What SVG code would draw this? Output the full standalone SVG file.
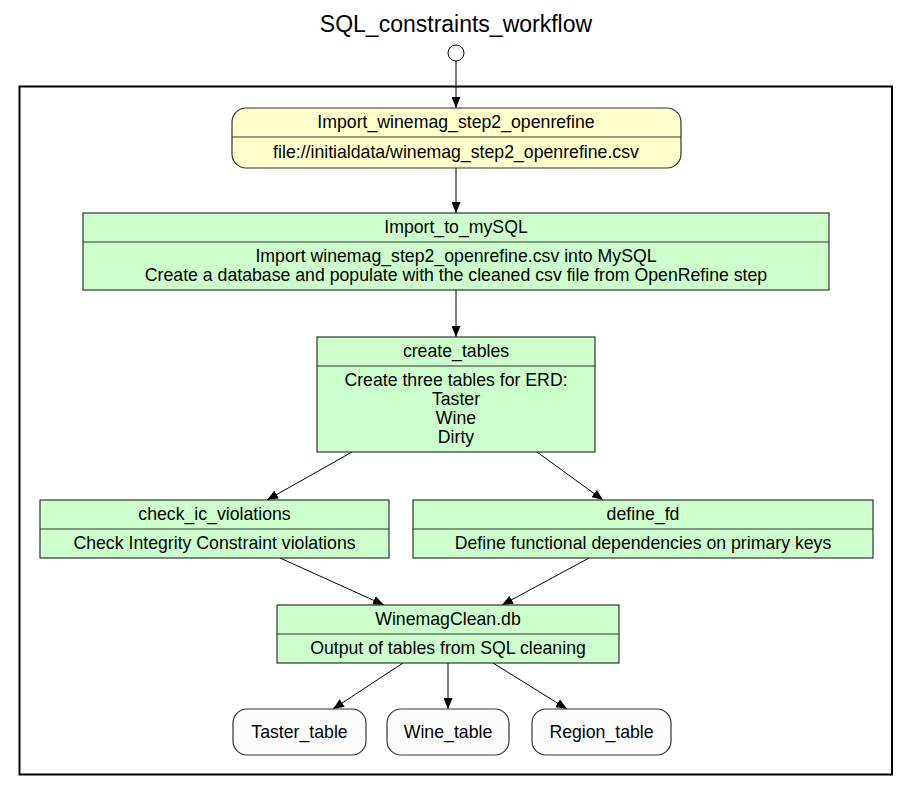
<svg xmlns="http://www.w3.org/2000/svg" width="908" height="796" viewBox="0 0 908 796">
<style>
text{font-family:"Liberation Sans",Arial,Helvetica,sans-serif;font-size:17.7px;fill:#000;text-anchor:middle}
.title{font-size:23px}
.box{stroke:#333;stroke-width:1.2}
.g{fill:#ccffcc}
.y{fill:#ffffcc}
.w{fill:#fcfcfc}
.div{stroke:#333;stroke-width:1.2}
.edge{stroke:#000;stroke-width:1;fill:none;marker-end:url(#ah)}
</style>
<defs>
<marker id="ah" markerWidth="12" markerHeight="9" refX="11" refY="4.5" orient="auto" markerUnits="userSpaceOnUse">
<path d="M0,0 L11,4.5 L0,9 Z" fill="#000"/>
</marker>
</defs>
<rect x="0" y="0" width="908" height="796" fill="#fff"/>
<text class="title" x="456" y="32">SQL_constraints_workflow</text>
<rect id="cluster" x="19.5" y="86.5" width="872.5" height="688" fill="none" stroke="#000" stroke-width="2"/>
<g id="start"><circle cx="456" cy="53" r="8" fill="#fff" stroke="#000" stroke-width="1"/></g>
<g id="connectors">
<line class="edge" x1="456" y1="61" x2="456" y2="108"/>
<line class="edge" x1="456" y1="168" x2="456" y2="213"/>
<line class="edge" x1="456" y1="290" x2="456" y2="337"/>
<line class="edge" x1="352" y1="452" x2="267" y2="500"/>
<line class="edge" x1="537" y1="452" x2="603" y2="500"/>
<line class="edge" x1="280" y1="558" x2="384" y2="605"/>
<line class="edge" x1="589" y1="558" x2="502" y2="605"/>
<line class="edge" x1="403" y1="663" x2="333" y2="709"/>
<line class="edge" x1="448" y1="663" x2="448" y2="709"/>
<line class="edge" x1="493" y1="663" x2="567" y2="709"/>
</g>
<g id="Import_winemag_step2_openrefine">
<rect class="box y" x="232" y="108" width="449" height="60" rx="14"/>
<line class="div" x1="232" y1="137" x2="681" y2="137"/>
<text x="456" y="128">Import_winemag_step2_openrefine</text>
<text x="456" y="158">file://initialdata/winemag_step2_openrefine.csv</text>
</g>
<g id="Import_to_mySQL">
<rect class="box g" x="83" y="213" width="746" height="77"/>
<line class="div" x1="83" y1="242" x2="829" y2="242"/>
<text x="456" y="233">Import_to_mySQL</text>
<text x="456" y="262">Import winemag_step2_openrefine.csv into MySQL</text>
<text x="456" y="281">Create a database and populate with the cleaned csv file from OpenRefine step</text>
</g>
<g id="create_tables">
<rect class="box g" x="317" y="337" width="278" height="115"/>
<line class="div" x1="317" y1="366" x2="595" y2="366"/>
<text x="456" y="357">create_tables</text>
<text x="456" y="386">Create three tables for ERD:</text>
<text x="456" y="405">Taster</text>
<text x="456" y="424">Wine</text>
<text x="456" y="443">Dirty</text>
</g>
<g id="check_ic_violations">
<rect class="box g" x="40" y="500" width="349" height="58"/>
<line class="div" x1="40" y1="529" x2="389" y2="529"/>
<text x="214.5" y="520">check_ic_violations</text>
<text x="214.5" y="549">Check Integrity Constraint violations</text>
</g>
<g id="define_fd">
<rect class="box g" x="413" y="500" width="460" height="58"/>
<line class="div" x1="413" y1="529" x2="873" y2="529"/>
<text x="643" y="520">define_fd</text>
<text x="643" y="549">Define functional dependencies on primary keys</text>
</g>
<g id="WinemagClean_db">
<rect class="box g" x="277" y="605" width="342" height="58"/>
<line class="div" x1="277" y1="634" x2="619" y2="634"/>
<text x="448" y="625">WinemagClean.db</text>
<text x="448" y="654">Output of tables from SQL cleaning</text>
</g>
<g id="Taster_table">
<rect class="box w" x="233" y="709" width="133" height="46" rx="14"/>
<text x="299.5" y="738">Taster_table</text>
</g>
<g id="Wine_table">
<rect class="box w" x="387" y="709" width="122" height="46" rx="14"/>
<text x="448" y="738">Wine_table</text>
</g>
<g id="Region_table">
<rect class="box w" x="532" y="709" width="139" height="46" rx="14"/>
<text x="601.5" y="738">Region_table</text>
</g>
</svg>
